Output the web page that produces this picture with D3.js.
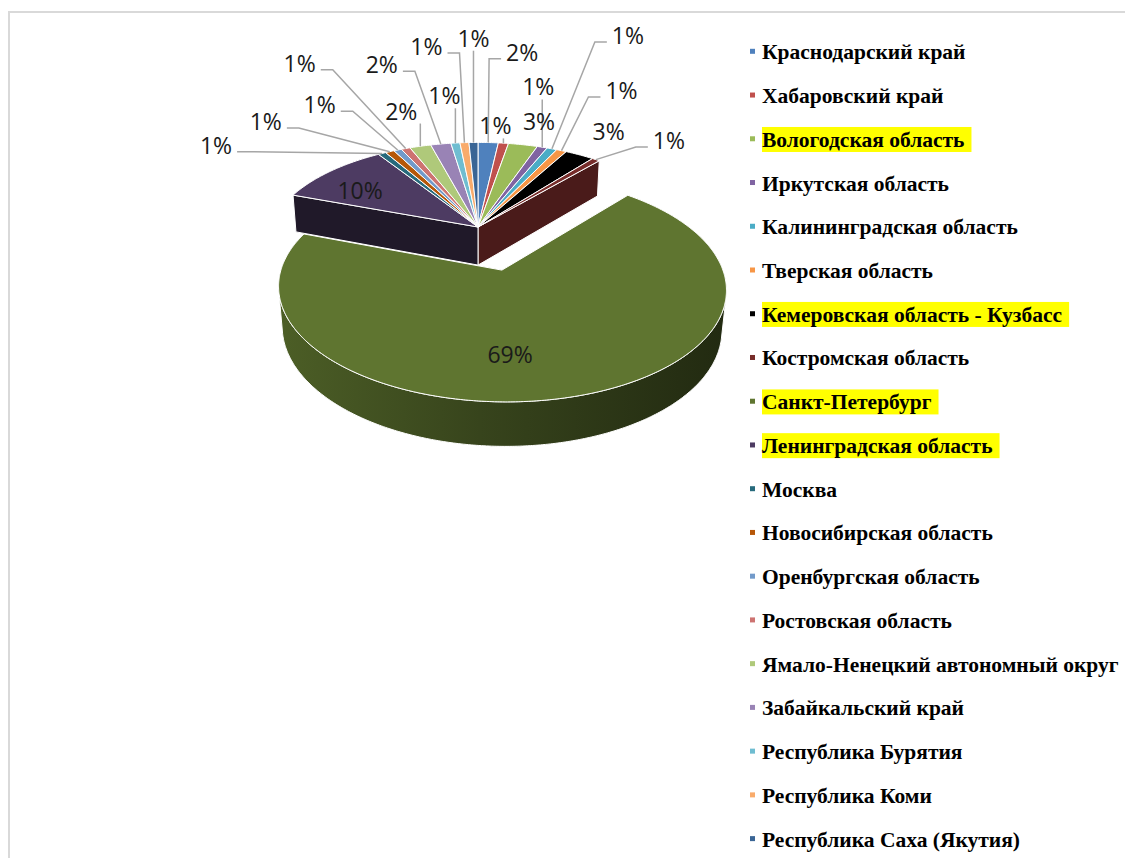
<!DOCTYPE html>
<html><head><meta charset="utf-8">
<script src="https://cdn.jsdelivr.net/npm/d3@7"></script>
<style>body{margin:0;background:#fff}svg{display:block}</style>
</head><body>
<svg id="c" width="1125" height="858"></svg>
<script>
// ---------- data ----------
const categories = [
  "Краснодарский край","Хабаровский край","Вологодская область","Иркутская область",
  "Калининградская область","Тверская область","Кемеровская область - Кузбасс","Костромская область",
  "Санкт-Петербург","Ленинградская область","Москва","Новосибирская область",
  "Оренбургская область","Ростовская область","Ямало-Ненецкий автономный округ","Забайкальский край",
  "Республика Бурятия","Республика Коми","Республика Саха (Якутия)"
];
const values = [1.8, 0.9, 2.6, 0.9, 0.9, 0.9, 2.6, 0.7, 69.3, 10.3, 0.7, 0.8, 0.7, 0.8, 1.9, 1.8, 0.8, 0.8, 0.8];
const colors = [
  "#4F81BD","#C0504D","#9BBB59","#8064A2","#4BACC6","#F79646","#000000","#772C2A",
  "#5F7530","#4D3B62","#276A7C","#B65708","#729ACA","#CD7371","#AFC97A","#9983B5",
  "#6FBDD1","#F9AB6B","#3A6595"
];
const highlighted = ["Вологодская область","Кемеровская область - Кузбасс","Санкт-Петербург","Ленинградская область"];
const explodedCategory = "Санкт-Петербург";
// label placement relative to the slice's rim anchor: [dx, dy, hasLeader]
const labelLayout = [
  [34,-90,1],[-8,-17,1],[16,-23,0],[-4,-60,1],[76,-113,1],[60,-60,1],[29,-23,0],[73,-19,1],
  [-62,-42,0],[30,19,0],[-166,-8,1],[-124,-30,1],[-78,-45,1],[-106,-85,1],[-19,-35,1],[-59,-79,1],
  [-11,-47,1],[-38,-96,1],[0,-104,1]
];

// ---------- setup ----------
const svg = d3.select("#c");
svg.append("rect").attr("x",9).attr("y",12).attr("width",1300).attr("height",1000)
  .attr("fill","none").attr("stroke","#d9d9d9").attr("stroke-width",2);

const view = {cx:478, cy:227, F:1219, R:0.17, h:0.036, alpha:28*Math.PI/180, explode:0.073};
const ca = Math.cos(view.alpha), sa = Math.sin(view.alpha);
function proj(X,Y,Z){
  const u=X, v=Z*ca+Y*sa, w=1+Y*ca-Z*sa;
  return [view.cx+view.F*u/w, view.cy-view.F*v/w];
}
const cam = [0,-ca,sa];
const total = d3.sum(values);
const arcs = d3.pie().sort(null).value(d=>d)(values);
const N = values.length;

const slices = arcs.map((a,i)=>{
  const mid=(a.startAngle+a.endAngle)/2;
  const e = categories[i]===explodedCategory ? view.explode : 0;
  const ox=e*Math.sin(mid), oy=e*Math.cos(mid);
  const pt=(th,r,Z)=>proj(ox+r*Math.sin(th), oy+r*Math.cos(th), Z);
  return {i,a,mid,ox,oy,pt,exploded:e>0,color:colors[i]};
});
const shade=(c,k)=>d3.interpolateRgb("#000",c)(k);
const line = d3.line();
const defs = svg.append("defs");
const gPie = svg.append("g");

function visible(n,P){
  return n[0]*(cam[0]-P[0])+n[1]*(cam[1]-P[1])+n[2]*(cam[2]-P[2])>0;
}
function drawWalls(s){
  const {a,ox,oy,pt} = s; const R=view.R, h=view.h;
  const prev = slices[(s.i-1+N)%N], next = slices[(s.i+1)%N];
  const n0=[-Math.cos(a.startAngle), Math.sin(a.startAngle),0];
  if((s.exploded||prev.exploded) && visible(n0,[ox,oy,0])){
    const p=[pt(0,0,0),pt(a.startAngle,R,0),pt(a.startAngle,R,-h),pt(0,0,-h)];
    gPie.append("path").attr("d",line(p)+"Z").attr("fill",shade(s.color,0.42))
      .attr("stroke","#fff").attr("stroke-width",1).attr("stroke-linejoin","round");
  }
  const n1=[Math.cos(a.endAngle),-Math.sin(a.endAngle),0];
  if((s.exploded||next.exploded) && visible(n1,[ox,oy,0])){
    const p=[pt(0,0,0),pt(a.endAngle,R,0),pt(a.endAngle,R,-h),pt(0,0,-h)];
    gPie.append("path").attr("d",line(p)+"Z").attr("fill",shade(s.color,0.62))
      .attr("stroke","#fff").attr("stroke-width",1).attr("stroke-linejoin","round");
  }
  const n = Math.max(2,Math.ceil((a.endAngle-a.startAngle)/0.01));
  const ths = d3.range(n+1).map(k=>a.startAngle+(a.endAngle-a.startAngle)*k/n);
  let runs=[],cur=[];
  ths.forEach(th=>{
    const P=[ox+R*Math.sin(th),oy+R*Math.cos(th),-h/2];
    if(visible([Math.sin(th),Math.cos(th),0],P)) cur.push(th);
    else { if(cur.length>1) runs.push(cur); cur=[]; }
  });
  if(cur.length>1) runs.push(cur);
  runs.forEach((r,ri)=>{
    const top=r.map(th=>pt(th,R,0)), bot=r.map(th=>pt(th,R,-h)).reverse();
    const all=top.concat(bot);
    const x0=d3.min(all,d=>d[0]), x1=d3.max(all,d=>d[0]);
    const gid="wg"+s.i+"_"+ri;
    const gr=defs.append("linearGradient").attr("id",gid).attr("gradientUnits","userSpaceOnUse")
      .attr("x1",x0).attr("x2",x1).attr("y1",0).attr("y2",0);
    gr.append("stop").attr("offset",0).attr("stop-color",shade(s.color,0.80));
    gr.append("stop").attr("offset",0.45).attr("stop-color",shade(s.color,0.58));
    gr.append("stop").attr("offset",1).attr("stop-color",shade(s.color,0.36));
    gPie.append("path").attr("d",line(all)+"Z").attr("fill",`url(#${gid})`)
      .attr("stroke","#fff").attr("stroke-width",1).attr("stroke-linejoin","round");
  });
}
function drawTop(s){
  const {a,pt}=s; const R=view.R;
  const n=Math.max(2,Math.ceil((a.endAngle-a.startAngle)/0.01));
  const p=[pt(0,0,0)].concat(d3.range(n+1).map(k=>pt(a.startAngle+(a.endAngle-a.startAngle)*k/n,R,0)));
  gPie.append("path").attr("d",line(p)+"Z").attr("fill",s.color)
    .attr("stroke","#fff").attr("stroke-width",1).attr("stroke-linejoin","round");
}
const flat = slices.filter(s=>!s.exploded), expl = slices.filter(s=>s.exploded);
flat.forEach(drawWalls); flat.forEach(drawTop);
expl.forEach(drawWalls); expl.forEach(drawTop);

// ---------- data labels ----------
const gLab = svg.append("g");
const fs = 23;
slices.forEach(s=>{
  const anchor = s.pt(s.mid, view.R, 0);
  const [dx,dy,hasLeader] = labelLayout[s.i];
  const cxl = anchor[0]+dx, cyl = anchor[1]+dy;
  const txt = Math.round(values[s.i]/total*100)+"%";
  const t = gLab.append("text").attr("x",cxl).attr("y",cyl+fs*0.36)
    .attr("text-anchor","middle").attr("font-family","'Open Sans', Lato, sans-serif")
    .attr("font-size",fs).attr("fill","#1a1a1a").text(txt);
  if(hasLeader){
    const w = t.node().getComputedTextLength();
    const left=cxl-w/2, right=cxl+w/2, base=cyl+fs*0.36;
    let pts;
    if(anchor[0]>=left-3 && anchor[0]<=right+3){
      pts=[[anchor[0],base+4],anchor];
    } else if(anchor[0]>right){
      pts=[[right+5,base-2],[right+17,base-2],anchor];
    } else {
      pts=[[left-5,base-2],[left-17,base-2],anchor];
    }
    gLab.insert("path","text").attr("d",line(pts)).attr("fill","none")
      .attr("stroke","#A6A6A6").attr("stroke-width",1.5);
  }
});

// ---------- legend ----------
const gLeg = svg.append("g");
categories.forEach((c,i)=>{
  const base = 59.3 + i*43.74;
  gLeg.append("rect").attr("x",750).attr("y",base-10.5).attr("width",5).attr("height",5).attr("fill",colors[i]);
  const t = gLeg.append("text").attr("x",762).attr("y",base)
    .attr("font-family","'Liberation Serif','Times New Roman',serif").attr("font-weight","bold")
    .attr("font-size",21.5).attr("fill","#000").text(c);
  if(highlighted.includes(c)){
    const w=t.node().getComputedTextLength();
    gLeg.insert("rect","text").attr("x",762).attr("y",base-19.8).attr("width",w+7).attr("height",25).attr("fill","#FFFF00");
  }
});
</script>
</body></html>
